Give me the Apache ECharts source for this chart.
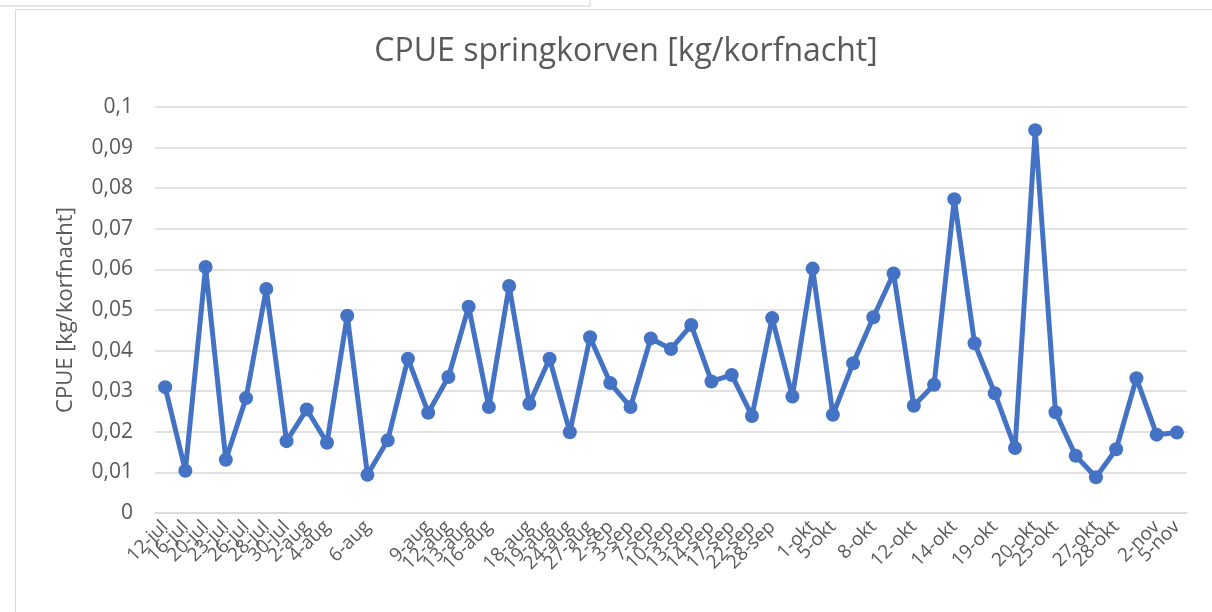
<!DOCTYPE html>
<html>
<head>
<meta charset="utf-8">
<script src="https://cdn.jsdelivr.net/npm/echarts@6/dist/echarts.min.js"></script>
<style>
  html, body { margin: 0; padding: 0; background: #fff; }
  #chart { width: 1212px; height: 612px; }
</style>
</head>
<body>
<div id="chart"></div>
<script>
  // categorie-labels (lege cellen in de bron blijven leeg)
  const dates = [
    '12-jul', '16-jul', '20-jul', '23-jul', '26-jul', '28-jul', '30-jul', '2-aug', '4-aug', '',
    '6-aug', '', '', '9-aug', '12-aug', '13-aug', '16-aug', '', '18-aug', '19-aug',
    '24-aug', '27-aug', '2-sep', '3-sep', '7-sep', '10-sep', '13-sep', '14-sep', '17-sep', '22-sep',
    '28-sep', '', '1-okt', '5-okt', '', '8-okt', '', '12-okt', '', '14-okt',
    '', '19-okt', '', '20-okt', '25-okt', '', '27-okt', '28-okt', '', '2-nov',
    '5-nov'
  ]

  // CPUE waarden [kg/korfnacht]
  const cpue = [
    0.031, 0.0104, 0.0606, 0.0131, 0.0283, 0.0552, 0.0177, 0.0255, 0.0173, 0.0486,
    0.0094, 0.0179, 0.038, 0.0247, 0.0335, 0.0508, 0.0261, 0.0559, 0.0269, 0.038,
    0.0199, 0.0433, 0.032, 0.0261, 0.043, 0.0404, 0.0463, 0.0324, 0.034, 0.0239,
    0.048, 0.0287, 0.0602, 0.0242, 0.0369, 0.0482, 0.059, 0.0264, 0.0316, 0.0773,
    0.0418, 0.0295, 0.016, 0.0943, 0.0248, 0.0141, 0.0088, 0.0157, 0.0332, 0.0193,
    0.0198
  ]

  const fontFamily = 'Open Sans'
  const textColor = '#595959'

  const chart = echarts.init(document.getElementById('chart'))
  chart.setOption({
    animation: false,
    backgroundColor: '#fff',
    title: {
      text: 'CPUE springkorven [kg/korfnacht]',
      left: 621,
      textAlign: 'center',
      top: 31,
      textStyle: { fontFamily: fontFamily, fontSize: 32, fontWeight: 'normal', color: textColor }
    },
    // rand van het grafiekgebied
    graphic: [
      { type: 'line', shape: { x1: 0, y1: 6, x2: 590, y2: 6 }, style: { stroke: '#d0d0d0', lineWidth: 1 } },
      { type: 'line', shape: { x1: 590, y1: 0, x2: 590, y2: 6 }, style: { stroke: '#d0d0d0', lineWidth: 1 } },
      { type: 'line', shape: { x1: 15.5, y1: 9, x2: 15.5, y2: 612 }, style: { stroke: '#d9d9d9', lineWidth: 1 } },
      { type: 'line', shape: { x1: 15, y1: 9.5, x2: 1212, y2: 9.5 }, style: { stroke: '#d9d9d9', lineWidth: 1 } }
    ],
    grid: { left: 155, right: 25, top: 107, bottom: 99 },
    xAxis: {
      type: 'category',
      data: dates,
      boundaryGap: true,
      axisTick: { show: false },
      axisLine: { lineStyle: { color: '#d9d9d9', width: 1.5 } },
      axisLabel: {
        interval: 0,
        rotate: 45,
        margin: 11,
        fontFamily: fontFamily,
        fontSize: 19,
        color: textColor
      }
    },
    yAxis: {
      type: 'value',
      min: 0,
      max: 0.1,
      interval: 0.01,
      name: 'CPUE [kg/korfnacht]',
      nameLocation: 'middle',
      nameGap: 78,
      nameTextStyle: { fontFamily: fontFamily, fontSize: 22, color: textColor },
      axisLine: { show: false },
      axisTick: { show: false },
      splitLine: { lineStyle: { color: '#d9d9d9', width: 1.5 } },
      axisLabel: {
        margin: 22,
        fontFamily: fontFamily,
        fontSize: 21,
        color: textColor,
        formatter: function (v) {
          return String(+v.toFixed(2)).replace('.', ',')
        }
      }
    },
    series: [
      {
        name: 'CPUE',
        type: 'line',
        data: cpue,
        symbol: 'circle',
        symbolSize: 14,
        itemStyle: { color: '#4472C4' },
        lineStyle: { color: '#4472C4', width: 5 }
      }
    ]
  })
</script>
</body>
</html>
